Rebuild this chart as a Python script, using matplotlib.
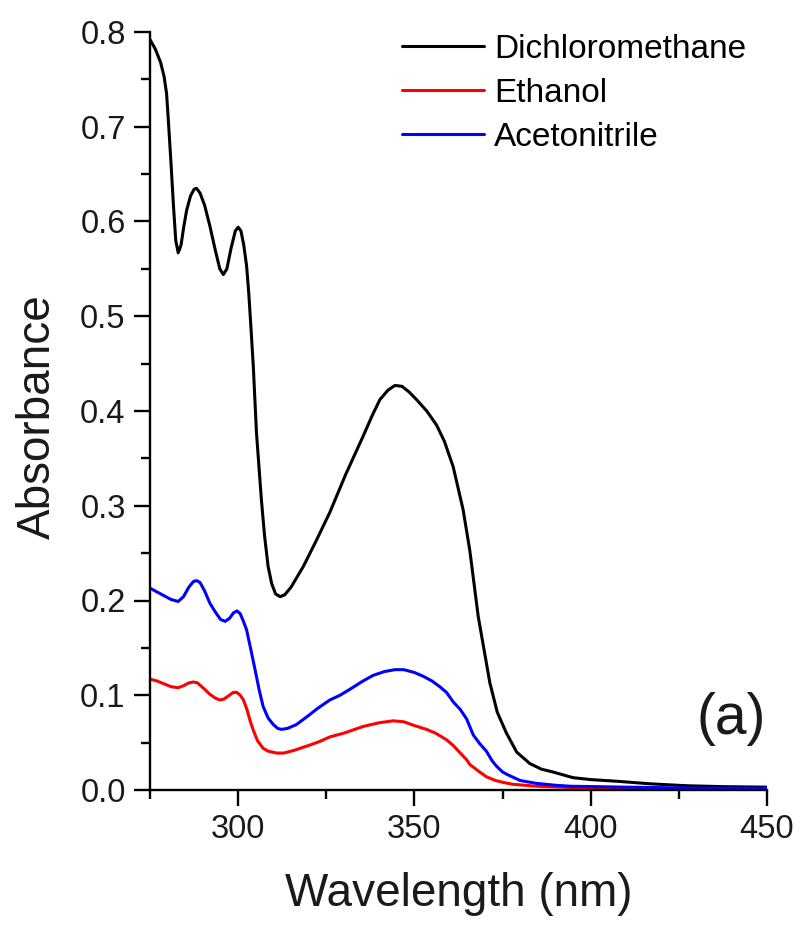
import matplotlib
matplotlib.use('Agg')
import matplotlib.pyplot as plt
from matplotlib.ticker import MultipleLocator

plt.rcParams['font.family'] = ['Liberation Sans', 'DejaVu Sans']

# values
dcm_wl = [275, 276.5, 278, 279.0, 279.7, 280.2, 280.9, 281.6, 282.3, 283.0, 283.8,
          284.6, 285.4, 286.5, 287.5, 288.2, 289.2, 290.5, 292.0, 293.5, 294.8,
          295.8, 296.8, 298.0, 299.2, 300.0, 300.8, 301.6, 302.4, 303.0, 303.6,
          304.3, 305.2, 306.6, 307.5, 308.5, 309.5, 310.6, 311.9, 313.2, 315.0,
          318.5, 322.0, 326.0, 330.5, 335.4, 338.0, 340.2, 342.5, 344.5, 346.5,
          348.5, 350.6, 353.5, 356.3, 358.5, 361.0, 363.8, 365.7, 368.1, 371.4,
          373.5, 376.1, 379.0, 382.7, 386.0, 389.3, 395.0, 400, 408.3, 417,
          427.2, 438, 450]
dcm_abs = [0.792, 0.782, 0.768, 0.753, 0.735, 0.707, 0.665, 0.620, 0.580, 0.567, 0.575,
           0.595, 0.612, 0.627, 0.634, 0.635, 0.630, 0.617, 0.595, 0.570, 0.550,
           0.544, 0.550, 0.572, 0.590, 0.594, 0.590, 0.575, 0.553, 0.525, 0.490,
           0.447, 0.377, 0.306, 0.268, 0.236, 0.218, 0.207, 0.204, 0.206, 0.214,
           0.236, 0.262, 0.293, 0.333, 0.373, 0.395, 0.412, 0.422, 0.427, 0.426,
           0.420, 0.412, 0.400, 0.385, 0.368, 0.341, 0.296, 0.253, 0.183, 0.113,
           0.082, 0.060, 0.040, 0.028, 0.022, 0.019, 0.013, 0.011, 0.009, 0.0065,
           0.0045, 0.0035, 0.003]

eth_wl = [275, 277, 279, 281, 283.0, 284.5, 286, 287.3, 288.5, 290, 292, 293.5,
          294.8, 296, 297.5, 298.6, 299.6, 300.6, 301.5, 302.5, 303.4, 304.3,
          305.5, 307.1, 308.5, 310.9, 313, 316, 320, 323, 326.0, 330, 335.4, 340,
          344.0, 347, 350, 353.4, 356, 359.1, 361.0, 363, 364.8, 365.7, 368.5,
          370.4, 373, 375.2, 378.0, 384.6, 392, 400, 420, 450]
eth_abs = [0.117, 0.115, 0.112, 0.109, 0.108, 0.110, 0.113, 0.114, 0.113, 0.108, 0.101, 0.097,
           0.095, 0.096, 0.100, 0.103, 0.103, 0.100, 0.095, 0.085, 0.073, 0.063,
           0.052, 0.044, 0.041, 0.039, 0.039, 0.042, 0.047, 0.051, 0.056, 0.060, 0.067, 0.071,
           0.073, 0.072, 0.068, 0.064, 0.060, 0.053, 0.047, 0.039, 0.032, 0.027, 0.019,
           0.014, 0.010, 0.008, 0.006, 0.004, 0.003, 0.002, 0.0015, 0.001]

ace_wl = [275, 277, 279, 281, 283.0, 284.5, 286, 287.3, 288.2, 289.2, 290.5, 292.0,
          293.5, 295.0, 296.3, 297.5, 298.7, 299.7, 300.6, 301.5, 302.4, 303.5,
          304.8, 306.0, 307.1, 308.5, 310.0, 311.2, 312.3, 314.0, 316.5, 319.4,
          322.5, 326.0, 328.9, 332, 335.4, 338.3, 341.5, 344.5, 347.0, 350.0,
          352.5, 355.0, 357.2, 359.1, 361.0, 363.0, 364.8, 366.7, 368.5, 370.4,
          372, 373.3, 375, 376.5, 380.0, 384.6, 390, 394.0, 410, 430, 450]
ace_abs = [0.213, 0.209, 0.205, 0.201, 0.199, 0.204, 0.214, 0.220, 0.221, 0.219, 0.210, 0.197,
           0.188, 0.180, 0.178, 0.181, 0.187, 0.189, 0.186, 0.178, 0.169, 0.150,
           0.127, 0.105, 0.088, 0.076, 0.069, 0.065, 0.064, 0.065, 0.069, 0.077,
           0.086, 0.095, 0.100, 0.107, 0.115, 0.121, 0.125, 0.127, 0.127, 0.124,
           0.120, 0.115, 0.109, 0.103, 0.093, 0.085, 0.075, 0.058, 0.049, 0.041,
           0.031, 0.025, 0.019, 0.016, 0.010, 0.007, 0.005, 0.004, 0.003, 0.002, 0.002]

series = [
    ('Dichloromethane', dcm_wl, dcm_abs, 'black'),
    ('Ethanol', eth_wl, eth_abs, 'red'),
    ('Acetonitrile', ace_wl, ace_abs, 'blue'),
]

fig = plt.figure(figsize=(8.02, 9.26), dpi=100)
ax = fig.add_axes([150 / 802, 136 / 926, 617 / 802, 758 / 926])

for label, wl, ab, color in series:
    ax.plot(wl, ab, color=color, lw=2.2, label=label,
            solid_joinstyle='round', solid_capstyle='round')

ax.set_xlim(275, 450)
ax.set_ylim(0, 0.8)
ax.set_xticks([300, 350, 400, 450])
ax.xaxis.set_minor_locator(MultipleLocator(25))
ax.yaxis.set_major_locator(MultipleLocator(0.1))
ax.yaxis.set_minor_locator(MultipleLocator(0.05))

for side in ['top', 'right']:
    ax.spines[side].set_visible(False)
for side in ['left', 'bottom']:
    ax.spines[side].set_linewidth(1.7)

ax.tick_params(which='major', direction='out', length=11.5, width=1.7,
               labelsize=23.5, pad=6, color='black', labelcolor='#1a1a1a')
ax.tick_params(which='minor', direction='out', length=6.5, width=1.7)

ax.set_xlabel('Wavelength (nm)', fontsize=33, color='#1a1a1a')
ax.set_ylabel('Absorbance', fontsize=33, color='#1a1a1a')
ax.xaxis.set_label_coords(0.5, (790 - 872) / 758)
ax.yaxis.set_label_coords((60 - 150) / 617, 0.492)

ax.legend(loc='upper left', bbox_to_anchor=(402 / 802, 1 - 34 / 926),
          bbox_transform=fig.transFigure, frameon=False, fontsize=24,
          handlelength=2.46, handletextpad=0.3, labelspacing=0.39,
          borderpad=0, borderaxespad=0)

fig.text(731 / 802, 1 - 719 / 926, '(a)', fontsize=41, ha='center', va='center',
         color='#1a1a1a')

fig.savefig('out.png', dpi=100)
